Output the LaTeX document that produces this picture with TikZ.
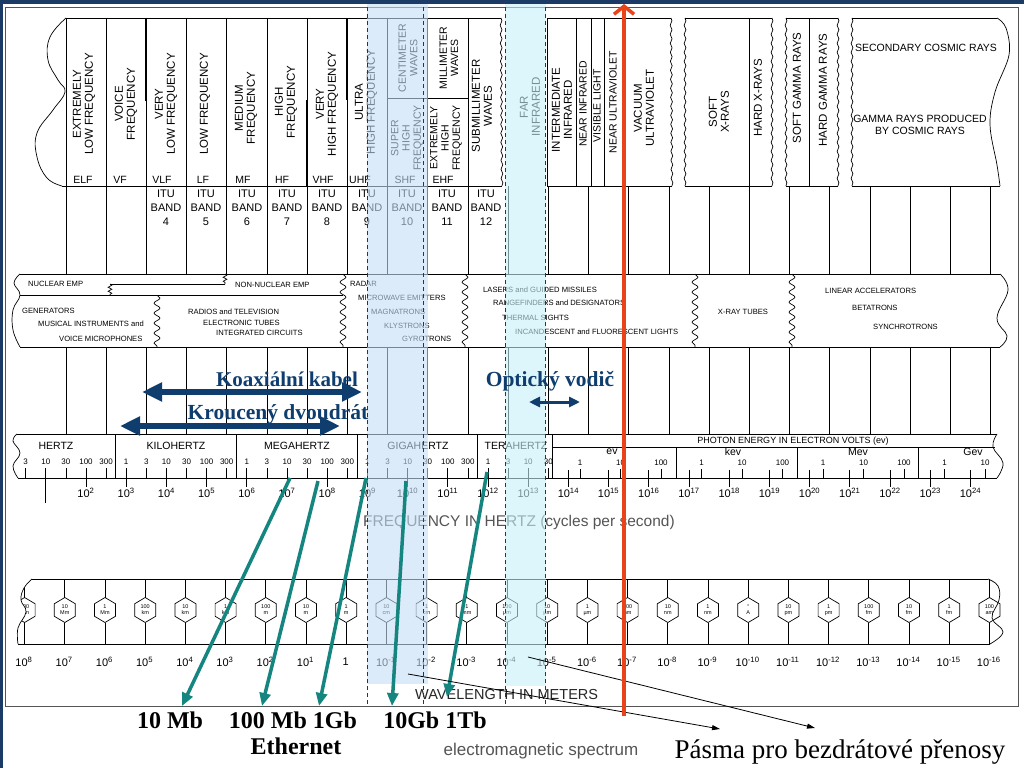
\documentclass[tikz,border=0pt]{standalone}
\usepackage{fontspec}
\setmainfont{Liberation Serif}
\setsansfont{Liberation Sans}
\usetikzlibrary{decorations.pathmorphing,arrows.meta}
\definecolor{navyb}{HTML}{1B3A66}
\definecolor{colA}{HTML}{C5DEF7}
\definecolor{colB}{HTML}{C6F0FA}
\definecolor{tealc}{HTML}{14857F}
\definecolor{redc}{HTML}{E8441C}
\definecolor{arrnavy}{HTML}{0E3D6E}
\definecolor{lblgray}{HTML}{555555}
\definecolor{framegray}{HTML}{555555}
\begin{document}
\begin{tikzpicture}[x=1pt,y=-1pt,
  ln/.style={line width=0.7pt,black},
  thk/.style={line width=1.8pt,black},
  torn/.style={ln,decorate,decoration={snake,amplitude=0.9pt,segment length=9pt}},
  wavy/.style={ln,decorate,decoration={snake,amplitude=3pt,segment length=10pt}},
  zz/.style={ln,decorate,decoration={snake,amplitude=1.8pt,segment length=4pt}},
  rlab/.style={rotate=90,align=center,inner sep=0pt,font=\sffamily\fontsize{11.5}{12}\selectfont},
  rlabs/.style={rotate=90,align=center,inner sep=0pt,font=\sffamily\fontsize{10.5}{11.3}\selectfont},
  blab/.style={align=center,inner sep=0pt,font=\sffamily\fontsize{10.5}{11.5}\selectfont},
  itu/.style={align=center,inner sep=0pt,font=\sffamily\fontsize{11}{14}\selectfont},
  src/.style={anchor=west,inner sep=0pt,font=\sffamily\fontsize{7.6}{8}\selectfont},
  num/.style={inner sep=0pt,font=\sffamily\fontsize{8}{8}\selectfont},
  decl/.style={inner sep=0pt,font=\sffamily\fontsize{11}{12}\selectfont},
  hexlab/.style={align=center,inner sep=0pt,font=\sffamily\fontsize{5.5}{6}\selectfont},
  dsh/.style={line width=0.7pt,black!80,dash pattern=on 4pt off 3pt},
  cablearrow/.style={arrnavy,line width=6pt,{Triangle[length=20pt,width=18pt]}-{Triangle[length=20pt,width=18pt]}},
  smallcable/.style={arrnavy,line width=3pt,{Triangle[length=11pt,width=10pt]}-{Triangle[length=11pt,width=10pt]}},
  tealarrow/.style={tealc,line width=3.5pt,-{Triangle[length=13pt,width=11pt]}},
  thinarrow/.style={black,line width=0.8pt,-{Triangle[length=8pt,width=5pt]}},
  cablelab/.style={inner sep=0pt,anchor=base,text=arrnavy,font=\rmfamily\bfseries\fontsize{21}{21}\selectfont},
  ethlab/.style={inner sep=0pt,anchor=base,font=\rmfamily\bfseries\fontsize{24}{24}\selectfont},
]
\useasboundingbox (0,0) rectangle (1024,768);
\fill[white] (0,0) rectangle (1024,768);
\draw[line width=0.8pt,framegray] (5,7) rectangle (1018,706);

% ---------- top band ----------
\draw[ln] plot[smooth,tension=0.7] coordinates {(66,18) (50,37) (48,60) (58,80) (65,92) (53,110) (37,133) (37,157) (47,178) (62,186)};
\draw[ln] (66,18) -- (501,18);
\draw[ln] (62,186) -- (502,186);
\draw[torn] (501,18) -- (502,186);
\foreach \k in {0,...,10} {\pgfmathsetmacro\xx{66+40.2*\k} \draw[ln] (\xx,18) -- (\xx,186);}
\draw[ln] (387,98) -- (468,98);
\draw[thk] (146,18) -- (146,101);
\draw[thk] (347,18) -- (347,100);
\draw[thk] (307,100) -- (307,186);

\draw[ln] (671,18) -- (547,18) -- (547,186) -- (672,186);
\draw[torn] (671,18) -- (672,186);
\foreach \xx in {576,591,604,624} \draw[ln] (\xx,18) -- (\xx,186);

\draw[ln] (685,18) -- (772,18);
\draw[ln] (685,186) -- (772,186);
\draw[torn] (685,18) -- (685,186);
\draw[torn] (772,18) -- (772,186);
\draw[ln] (749,18) -- (749,186);

\draw[ln] (786,18) -- (838,18);
\draw[ln] (786,186) -- (838,186);
\draw[torn] (786,18) -- (786,186);
\draw[torn] (838,18) -- (838,186);
\draw[ln] (809,18) -- (809,186);

\draw[ln] (852,18) -- (997,18);
\draw[ln] plot[smooth,tension=0.6] coordinates {(997,18) (1006,28) (1009,55) (995,92) (990,125) (997,165) (1000,186)};
\draw[ln] (852,186) -- (1000,186);
\draw[torn] (852,18) -- (852,186);

% rotated band names
\node[rlab] (r1) at (84,104) {EXTREMELY\\LOW FREQUENCY};
\node[rlab] (r2) at (126,104) {VOICE\\FREQUENCY};
\node[rlab] (r3) at (166,104) {VERY\\LOW FREQUENCY};
\node[rlab] (r4) at (205,104) {LOW FREQUENCY};
\node[rlab] (r5) at (246,108) {MEDIUM\\FREQUENCY};
\node[rlab] (r6) at (286,102) {HIGH\\FREQUENCY};
\node[rlab] (r7) at (327,104) {VERY\\HIGH FREQUENCY};
\node[rlab] (r8) at (366,102) {ULTRA\\HIGH FREQUENCY};
\node[rlabs] (r9) at (408,58) {CENTIMETER\\WAVES};
\node[rlabs] (r10) at (407,138) {SUPER\\HIGH\\FREQUENCY};
\node[rlabs] (r11) at (449,58) {MILLIMETER\\WAVES};
\node[rlabs] (r12) at (446,138) {EXTREMELY\\HIGH\\FREQUENCY};
\node[rlab] (r13) at (482,106) {SUBMILLIMETER\\WAVES};
\node[rlab] (r14) at (530,107) {FAR\\INFRARED};
\node[rlab] (r15) at (562,110) {INTERMEDIATE\\INFRARED};
\node[rlabs] (r16) at (583,104) {NEAR INFRARED};
\node[rlabs] (r17) at (597,106) {VISIBLE LIGHT};
\node[rlabs] (r18) at (613,102) {NEAR ULTRAVIOLET};
\node[rlab] (r19) at (644,108) {VACUUM\\ULTRAVIOLET};
\node[rlab] (r20) at (719,112) {SOFT\\X-RAYS};
\node[rlab] (r21) at (758,98) {HARD X-RAYS};
\node[rlab] (r22) at (797,88) {SOFT GAMMA RAYS};
\node[rlab] (r23) at (823,90) {HARD GAMMA RAYS};
\node[blab] (e1) at (926,48) {SECONDARY COSMIC RAYS};
\node[blab] (e2) at (920,125) {GAMMA RAYS PRODUCED\\BY COSMIC RAYS};

\foreach \xx/\t [count=\i] in {83/ELF,120/VF,162/VLF,203/LF,243/MF,282/HF,323/VHF,360/UHF,405/SHF,443/EHF}
  \node[blab] (ab\i) at (\xx,180) {\t};
\foreach \xx/\nn [count=\i] in {166/4,206/5,247/6,287/7,327/8,367/9,407/10,447/11,486/12}
  \node[itu] (itu\i) at (\xx,208) {ITU\\BAND\\\nn};

% grid lines
\foreach \k in {0,...,23} {\pgfmathsetmacro\xx{66+40.2*\k}
  \draw[ln] (\xx,186) -- (\xx,274);
  \draw[ln] (\xx,347) -- (\xx,434);}

% ---------- sources band ----------
\fill[white] (20,274) rectangle (1000,347);
\draw[ln] plot[smooth,tension=0.7] coordinates {(20,274) (14,283) (20,295) (13,310) (13,330) (20,347)};
\draw[ln] (20,274) -- (1000,274);
\draw[ln] (20,347) -- (1000,347);
\draw[ln] plot[smooth,tension=0.7] coordinates {(1000,274) (1008,290) (997,318) (1007,336) (1000,347)};
\draw[ln] (20,295) -- (343,295);
\draw[zz] (110,284) -- (110,295);
\draw[ln] (110,284) -- (225,284);
\draw[zz] (225,274) -- (225,284);
\foreach \xx/\ya in {157/295,343/274,465/274,695/274,792/274} \draw[wavy] (\xx,\ya) -- (\xx,347);

\node[src] (s1) at (28,284) {NUCLEAR EMP};
\node[src] (s2) at (235,285) {NON-NUCLEAR EMP};
\node[src] (s3) at (22,311) {GENERATORS};
\node[src] (s4) at (38,324) {MUSICAL INSTRUMENTS and};
\node[src] (s5) at (59,339) {VOICE MICROPHONES};
\node[src] (s6) at (188,312) {RADIOS and TELEVISION};
\node[src] (s7) at (203,323) {ELECTRONIC TUBES};
\node[src] (s8) at (216,333) {INTEGRATED CIRCUITS};
\node[src] (s9) at (350,284) {RADAR};
\node[src] (s10) at (358,298) {MICROWAVE EMITTERS};
\node[src] (s11) at (371,312) {MAGNATRONS};
\node[src] (s12) at (384,326) {KLYSTRONS};
\node[src] (s13) at (402,339) {GYROTRONS};
\node[src] (s14) at (483,290) {LASERS and GUIDED MISSILES};
\node[src] (s15) at (493,303) {RANGEFINDERS and DESIGNATORS};
\node[src] (s16) at (502,318) {THERMAL SIGHTS};
\node[src] (s17) at (515,332) {INCANDESCENT and FLUORESCENT LIGHTS};
\node[src,anchor=center] (s18) at (743,312) {X-RAY TUBES};
\node[src] (s19) at (825,291) {LINEAR ACCELERATORS};
\node[src] (s20) at (852,308) {BETATRONS};
\node[src] (s21) at (873,327) {SYNCHROTRONS};

% ---------- frequency band ----------
\fill[white] (17,434) rectangle (997,478);
\draw[ln] plot[smooth,tension=0.7] coordinates {(17,434) (13,441) (20,453) (13,466) (18,478)};
\draw[ln] (17,434) -- (997,434);
\draw[ln] (18,478) -- (997,478);
\draw[ln] plot[smooth,tension=0.7] coordinates {(997,434) (993,447) (1003,463) (997,478)};
\foreach \xx in {115,236,357,477,552} \draw[ln] (\xx,434) -- (\xx,478);
\draw[ln] (552,447) -- (995,447);
\foreach \xx in {676,797,918} \draw[ln] (\xx,447) -- (\xx,478);

\node[blab] (fh1) at (56,446) {HERTZ};
\node[blab] (fh2) at (176,446) {KILOHERTZ};
\node[blab] (fh3) at (297,446) {MEGAHERTZ};
\node[blab] (fh4) at (418,446) {GIGAHERTZ};
\node[blab] (fh5) at (516,446) {TERAHERTZ};
\node[num,font=\sffamily\fontsize{9}{9}\selectfont] (pe) at (793,441) {PHOTON ENERGY IN ELECTRON VOLTS (ev)};
\node[blab] (ev) at (612,452) {ev};
\node[blab] (kev) at (733,452) {kev};
\node[blab] (mev) at (858,452) {Mev};
\node[blab] (gev) at (973,452) {Gev};

\foreach \d/\t [count=\i] in {0.5/3,1/10,1.5/30,2/100,2.5/300,3/1,3.5/3,4/10,4.5/30,5/100,5.5/300,6/1,6.5/3,7/10,7.5/30,8/100,8.5/300,9/1,9.5/3,10/10,10.5/30,11/100,11.5/300,12/1,12.5/3,13/10,13.5/30}
{ \pgfmathsetmacro\xx{86+40.2*(\d-2)}
  \node[num] (fn\i) at (\xx,462) {\t};
  \draw[ln] (\xx,468) -- (\xx,478); }
\foreach \i/\t in {0/1,1/10,2/100,3/1,4/10,5/100,6/1,7/10,8/100,9/1,10/10}
{ \pgfmathsetmacro\xx{580+40.5*\i}
  \node[num] (en\i) at (\xx,463) {\t};
  \draw[ln] (\xx,469) -- (\xx,478); }
\draw[ln] (45.8,470) -- (45.8,503);
\foreach \nn in {2,...,24}
{ \pgfmathsetmacro\xx{86+40.2*(\nn-2)}
  \draw[ln] (\xx,470) -- (\xx,487);
  \node[decl] (fd\nn) at (\xx,493) {10\textsuperscript{\nn}}; }
\node[inner sep=0pt,anchor=base west,text=lblgray,font=\sffamily\fontsize{15.5}{16}\selectfont] (fq) at (363,526) {FREQUENCY IN HERTZ (cycles per second)};

% ---------- wavelength band ----------
\draw[ln] (32,579) -- (988,579);
\draw[ln] (18,644) -- (990,644);
\draw[ln] plot[smooth,tension=0.7] coordinates {(988,579) (998,586) (999,600) (992,618) (1003,632) (990,644)};
\foreach \k/\lab in {0/{100\\Mm},1/{10\\Mm},2/{1\\Mm},3/{100\\km},4/{10\\km},5/{1\\km},6/{100\\m},7/{10\\m},8/{1\\m},9/{10\\cm},10/{1\\cm},11/{1\\mm},12/{100\\µm},13/{10\\µm},14/{1\\µm},15/{100\\nm},16/{10\\nm},17/{1\\nm},18/{°\\A},19/{10\\pm},20/{1\\pm},21/{100\\fm},22/{10\\fm},23/{1\\fm},24/{100\\am}}
{ \pgfmathsetmacro\hx{24.6+40.2*\k}
  \draw[ln] (\hx,579) -- (\hx,597.5);
  \draw[ln] (\hx,622.5) -- (\hx,644);
  \draw[ln] (\hx,597.5) -- ++(10.5,6.25) -- ++(0,12.5) -- ++(-10.5,6.25) -- ++(-10.5,-6.25) -- ++(0,-12.5) -- cycle;
  \node[hexlab] (hx\k) at (\hx,610) {\lab}; }
\fill[white] (6,579) -- plot[smooth,tension=0.7] coordinates {(32,579) (24,588) (21,600) (26,612) (18,628) (18,644)} -- (6,644) -- cycle;
\draw[ln] plot[smooth,tension=0.7] coordinates {(32,579) (24,588) (21,600) (26,612) (18,628) (18,644)};
\foreach \k/\e in {0/8,1/7,2/6,3/5,4/4,5/3,6/2,7/1,9/-1,10/-2,11/-3,12/-4,13/-5,14/-6,15/-7,16/-8,17/-9,18/-10,19/-11,20/-12,21/-13,22/-14,23/-15,24/-16}
{ \pgfmathsetmacro\xx{24+40.2*\k}
  \node[decl] (wl\k) at (\xx,662) {10\textsuperscript{\e}}; }
\node[decl] (wl8) at (345.6,662) {1};
\node[inner sep=0pt,anchor=base west,font=\sffamily\fontsize{14.5}{15}\selectfont,text=black!85] (wlt) at (415,699) {WAVELENGTH IN METERS};

% ---------- overlays ----------
\fill[colA,opacity=0.6] (367,4) rectangle (428,684);
\fill[colB,opacity=0.6] (505,4) rectangle (546,686);
\foreach \xx in {367,423,505,545} \draw[dsh] (\xx,0) -- (\xx,706);

\fill[navyb] (0,0) rectangle (1024,4.5);
\fill[navyb] (0,0) rectangle (3,768);

% ---------- cable arrows ----------
\coordinate (k1a) at (142,392); \coordinate (k1b) at (362,392);
\coordinate (k2a) at (120,426); \coordinate (k2b) at (340,426);
\coordinate (k3a) at (529,402); \coordinate (k3b) at (580,402);
\draw[cablearrow] (k1a) -- (k1b);
\draw[cablearrow] (k2a) -- (k2b);
\draw[smallcable] (k3a) -- (k3b);
\node[cablelab] (koax) at (287,386) {Koaxiální kabel};
\node[cablelab,font=\rmfamily\bfseries\fontsize{21.5}{21.5}\selectfont] (krou) at (278,419) {Kroucený dvoudrát};
\node[cablelab,font=\rmfamily\bfseries\fontsize{21.5}{21.5}\selectfont] (opt) at (550,386) {Optický vodič};

% ---------- bottom labels ----------
\node[ethlab] (l10) at (170,728) {10 Mb};
\node[ethlab] (l100) at (293,728) {100 Mb 1Gb};
\node[ethlab] (l10g) at (435,728) {10Gb 1Tb};
\node[ethlab] (eth) at (296,754) {Ethernet};
\node[inner sep=0pt,anchor=base,text=lblgray,font=\sffamily\fontsize{17}{17}\selectfont] (ems) at (541,755) {electromagnetic spectrum};
\node[inner sep=0pt,anchor=base,font=\rmfamily\fontsize{27}{27}\selectfont] (pasma) at (840,758) {Pásma pro bezdrátové přenosy};

% ---------- teal arrows ----------
\coordinate (t1s) at (290,478); \coordinate (t1e) at (182,706);
\coordinate (t2s) at (318,481); \coordinate (t2e) at (262,706);
\coordinate (t3s) at (366,478); \coordinate (t3e) at (319,706);
\coordinate (t4s) at (406,481); \coordinate (t4e) at (392,706);
\coordinate (t5s) at (487,472); \coordinate (t5e) at (447,697);
\foreach \i in {1,...,5} \draw[tealarrow] (t\i s) -- (t\i e);

% ---------- thin black arrows ----------
\coordinate (b1s) at (408,674); \coordinate (b1e) at (720,729);
\coordinate (b2s) at (528,657); \coordinate (b2e) at (815,728);
\draw[thinarrow] (b1s) -- (b1e);
\draw[thinarrow] (b2s) -- (b2e);

% ---------- red arrow ----------
\coordinate (rs) at (624,716); \coordinate (re) at (624,4);
\draw[redc,line width=3.5pt,-{Straight Barb[length=8pt,width=20pt]}] (rs) -- (re);
\end{tikzpicture}
\end{document}
